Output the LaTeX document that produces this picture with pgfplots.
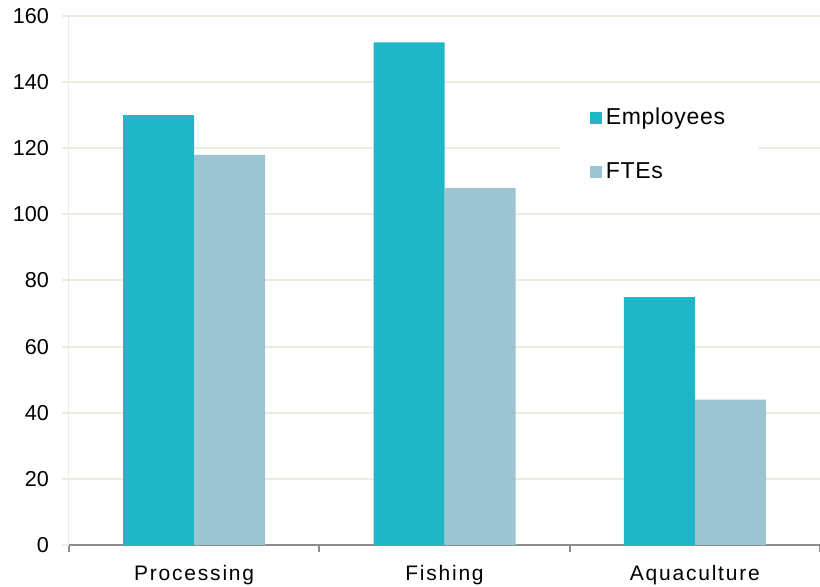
\documentclass[border=0pt]{standalone}
\usepackage{pgfplots}
\pgfplotsset{compat=1.18}
\usepackage{fontspec}
\setmainfont{Liberation Sans}
\newfontfamily\xlab[LetterSpace=8.5]{Liberation Sans}
\newfontfamily\leglab[LetterSpace=3]{Liberation Sans}
\definecolor{emp}{RGB}{31,182,200}
\definecolor{fte}{RGB}{157,196,209}
\definecolor{gridc}{RGB}{237,234,222}
\begin{document}
\begin{tikzpicture}
\path[use as bounding box] (-34.5pt,-21pt) rectangle (375.5pt,272.5pt);
\begin{axis}[
 at={(0,0)}, anchor=south west,
 scale only axis, width=375.5pt, height=264.5pt,
 ybar=0pt, bar width=35.5pt,
 xmin=-0.5, xmax=2.5, ymin=0, ymax=160,
 ytick={0,20,...,160},
 xtick={-0.5,0.5,1.5,2.5}, xticklabels={},
 extra x ticks={0,1,2},
 extra x tick labels={Processing,Fishing,Aquaculture},
 extra x tick style={grid=none, major tick length=0pt, xticklabel style={yshift=-6.5pt, font=\fontsize{10.5}{12.6}\xlab}},
 axis x line*=bottom, axis y line*=left,
 x axis line style={draw=black!45, line width=1pt, -},
 y axis line style={draw=black!8, line width=0.5pt, -},
 tick align=outside,
 major x tick style={draw=black!45, line width=1pt},
 major y tick style={draw=gridc, line width=1pt},
 major tick length=3.5pt,
 ymajorgrids, grid style={draw=gridc, line width=1pt},
 tick label style={font=\fontsize{10.8}{12.6}\selectfont},
 yticklabel style={xshift=-3pt},
 /pgf/number format/assume math mode=true,
 legend style={at={(0.653,0.756)}, anchor=west, draw=none, fill=white,
   font=\fontsize{11.5}{13.8}\leglab, inner xsep=15pt, inner ysep=10pt,
   row sep=13.5pt},
 legend cell align=left,
]
\addplot[fill=emp, draw=none, legend image code/.code={\fill[emp] (-2pt,-3pt) rectangle (4pt,3pt);}]
 coordinates {(0,130) (1,152) (2,75)};
\addplot[fill=fte, draw=none, legend image code/.code={\fill[fte] (-2pt,-3pt) rectangle (4pt,3pt);}]
 coordinates {(0,118) (1,108) (2,44)};
\legend{Employees,FTEs}
\end{axis}
\end{tikzpicture}
\end{document}
